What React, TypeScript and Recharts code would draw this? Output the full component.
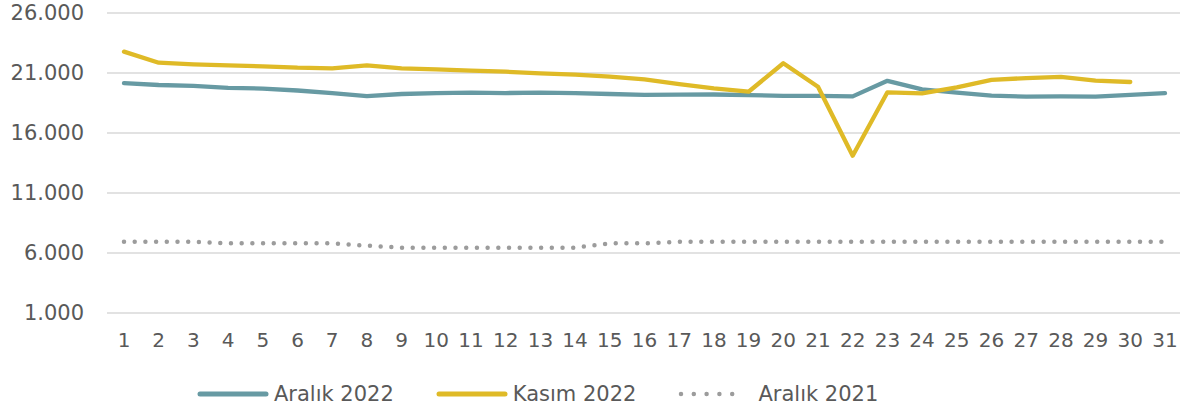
import { LineChart, Line, XAxis, YAxis, CartesianGrid, Legend } from 'recharts'

const days = ['1', '2', '3', '4', '5', '6', '7', '8', '9', '10', '11', '12', '13', '14', '15', '16',
  '17', '18', '19', '20', '21', '22', '23', '24', '25', '26', '27', '28', '29', '30', '31']

const aralik2022 = [20150, 20000, 19920, 19760, 19700, 19540, 19330, 19080, 19250, 19330, 19370, 19330,
  19370, 19330, 19250, 19170, 19200, 19210, 19150, 19100, 19100, 19050, 20350, 19640, 19360, 19110,
  19030, 19050, 19030, 19170, 19330]

const kasim2022 = [22780, 21860, 21720, 21640, 21560, 21440, 21390, 21640, 21390, 21300, 21190, 21110,
  20970, 20860, 20690, 20470, 20080, 19720, 19440, 21810, 19860, 14110, 19390, 19310, 19810, 20420,
  20580, 20670, 20360, 20250, null]

const aralik2021 = [6940, 6940, 6940, 6810, 6810, 6810, 6810, 6610, 6440, 6440, 6440, 6440, 6440, 6440,
  6810, 6810, 6940, 6940, 6940, 6940, 6940, 6940, 6940, 6940, 6940, 6940, 6940, 6940, 6940, 6940, 6940]

const yTicks = [1000, 6000, 11000, 16000, 21000, 26000]

const series = [
  { key: 'aralik2022', name: 'Aralık 2022', color: '#679AA3', dash: undefined as string | undefined },
  { key: 'kasim2022', name: 'Kasım 2022', color: '#DFBA27', dash: undefined as string | undefined },
  { key: 'aralik2021', name: 'Aralık 2021', color: '#9C9C9C', dash: '0 10.7' },
]

const data = days.map((d, i) => ({
  day: d,
  aralik2022: aralik2022[i],
  kasim2022: kasim2022[i],
  aralik2021: aralik2021[i],
}))

const textColor = '#595959'
const font = '"DejaVu Sans", sans-serif'

const fmt = (v: number) => String(v).replace(/\B(?=(\d{3})+(?!\d))/g, '.')

function ChartLegend() {
  return (
    <div style={{ height: 40, display: 'flex', alignItems: 'center', paddingLeft: 197, gap: 42, fontFamily: font, fontSize: 21, color: textColor }}>
      {series.map(s => (
        <div key={s.key} style={{ display: 'flex', alignItems: 'center', gap: s.dash ? 10 : 5 }}>
          <svg width={s.dash ? 70 : 72} height={10}>
            <line
              x1={3} y1={5} x2={s.dash ? 67 : 69} y2={5}
              stroke={s.color}
              strokeWidth={s.dash ? 4.5 : 5}
              strokeLinecap="round"
              strokeDasharray={s.dash ? '0 12.8' : undefined}
            />
          </svg>
          <span>{s.name}</span>
        </div>
      ))}
    </div>
  )
}

export default function App() {
  return (
    <div style={{ position: 'absolute', left: 0, top: 0, background: '#fff' }}>
      <LineChart width={1187} height={414} data={data} margin={{ top: 13, right: 7, left: 0, bottom: 0 }}>
        <CartesianGrid vertical={false} stroke="#D9D9D9" strokeWidth={1.5} />
        <XAxis
          dataKey="day"
          axisLine={false}
          tickLine={false}
          interval={0}
          height={61}
          tickMargin={14}
          padding={{ left: 17, right: 15 }}
          tick={{ fontSize: 20, fill: textColor, fontFamily: font }}
        />
        <YAxis
          domain={[1000, 26000]}
          ticks={yTicks}
          width={107}
          axisLine={false}
          tickLine={false}
          tickMargin={17}
          tickFormatter={fmt}
          tick={{ fontSize: 21, fill: textColor, fontFamily: font }}
        />
        <Legend verticalAlign="bottom" content={<ChartLegend />} wrapperStyle={{ left: 0, width: 1187, height: 40 }} />
        {series.map(s => (
          <Line
            key={s.key}
            type="linear"
            dataKey={s.key}
            name={s.name}
            stroke={s.color}
            strokeWidth={s.dash ? 4.5 : 4.3}
            strokeDasharray={s.dash}
            strokeLinecap="round"
            strokeLinejoin="round"
            dot={false}
            activeDot={false}
            isAnimationActive={false}
          />
        ))}
      </LineChart>
    </div>
  )
}
